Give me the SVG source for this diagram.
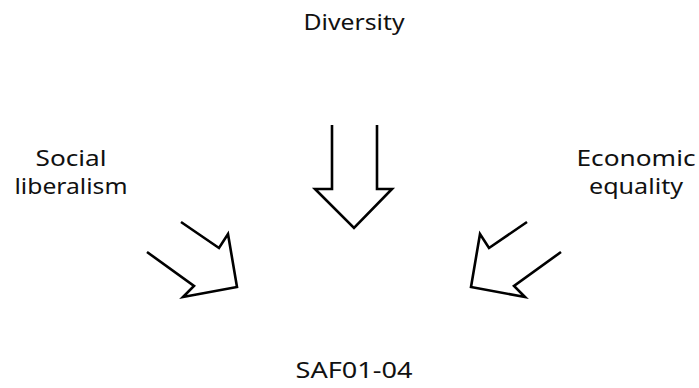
<svg xmlns="http://www.w3.org/2000/svg" width="699" height="388" viewBox="0 0 699 388">
<style>
.lbl{font-family:"Noto Sans","Open Sans",sans-serif;font-size:21px;fill:#111;text-anchor:middle}
.arr{fill:none;stroke:#000;stroke-width:2.6;stroke-linejoin:miter}
</style>
<rect width="699" height="388" fill="#fff"/>
<g id="diversity"><text class="lbl" x="354" y="30" textLength="101" lengthAdjust="spacingAndGlyphs">Diversity</text></g>
<g id="social-liberalism"><text class="lbl" x="71" y="166" textLength="71" lengthAdjust="spacingAndGlyphs">Social</text><text class="lbl" x="71" y="194" textLength="113" lengthAdjust="spacingAndGlyphs">liberalism</text></g>
<g id="economic-equality"><text class="lbl" x="636" y="166" textLength="119" lengthAdjust="spacingAndGlyphs">Economic</text><text class="lbl" x="636" y="194" textLength="94" lengthAdjust="spacingAndGlyphs">equality</text></g>
<g id="saf01-04"><text class="lbl" x="354" y="378" textLength="117" lengthAdjust="spacingAndGlyphs">SAF01-04</text></g>
<g id="connectors">
<path class="arr" d="M332,125 L332,189 L315,189 L354,228 L392,189 L377,189 L377,125"/>
<path class="arr" d="M181,222 L219,248 L228,234 L237,287 L183,297 L194,286 L147,252"/>
<path class="arr" d="M527,222 L489,248 L480,234 L471,287 L525,297 L514,286 L561,252"/>
</g>
</svg>
